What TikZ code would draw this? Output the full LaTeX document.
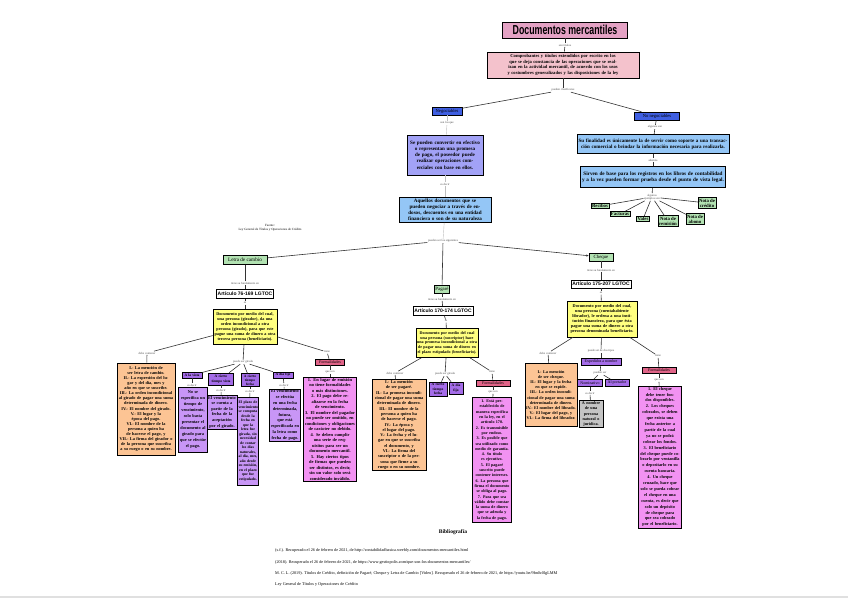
\documentclass[tikz,border=0pt]{standalone}
\usepackage{fontspec}
\setmainfont{Liberation Serif}
\newfontfamily\artfont{Liberation Sans}
\usetikzlibrary{shadows,arrows.meta}
\definecolor{tpink}{HTML}{E4A2C4}
\definecolor{ppink}{HTML}{F4C2CC}
\definecolor{rblue}{HTML}{3F5FE2}
\definecolor{lav}{HTML}{A2A2F6}
\definecolor{lblue}{HTML}{94C6F6}
\definecolor{lgreen}{HTML}{B2E2B2}
\definecolor{ylw}{HTML}{FFFF80}
\definecolor{orng}{HTML}{FCC494}
\definecolor{purd}{HTML}{A46CE8}
\definecolor{purl}{HTML}{C896F6}
\definecolor{pnk}{HTML}{F292F2}
\definecolor{fred}{HTML}{E06488}
\definecolor{gry}{HTML}{C4C4C4}
\newcommand\fsz[2]{\bfseries\fontsize{#1}{#2}\selectfont}
\newcommand\lsz[2]{\fontsize{#1}{#2}\selectfont}
\newcommand\conn[3]{\draw[ln] (#1) -- (#2); \draw[ln] (#2) -- (#3);}
\begin{document}
\begin{tikzpicture}[x=1pt,y=-1pt,
  bx/.style={draw=black, line width=0.6pt, align=center, inner sep=1pt,
    font=\fsz{4.3}{5.2},
    drop shadow={shadow xshift=0.7pt, shadow yshift=-0.7pt, fill=black!60, opacity=0.8}},
  lb/.style={font=\lsz{3}{3.4}, text=black!70, inner sep=0.6pt, align=center},
  ln/.style={draw=black!80, line width=0.6pt},
  lnl/.style={draw=black!25, line width=0.4pt},
  art/.style={bx, fill=white, font=\artfont\fsz{5}{5.5}, inner sep=1.2pt},
  gbox/.style={bx, fill=lgreen, font=\fsz{4.8}{5.2}}
]
\useasboundingbox (0,0) rectangle (848,599);
\fill[white] (0,0) rectangle (848,599);
\draw[black!12, line width=1.5pt] (0,597) -- (848,597);

% ---------- top ----------
\node[bx, fill=tpink, minimum width=125pt, minimum height=16pt, font=\artfont\bfseries] (title) at (565,30)
  {\scalebox{0.88}[1.3]{\fontsize{10}{10}\selectfont Documentos mercantiles}};
\node[lb] (lt1) at (565,45) {son títulos};
\node[bx, fill=ppink, text width=150pt, minimum height=26pt, font=\fsz{4.6}{5.5}] (b2) at (563,65)
  {Comprobantes y títulos extendidos por escrito en los que se deja constancia de las operaciones que se realizan en la actividad mercantil, de acuerdo con los usos y costumbres generalizados y las disposiciones de la ley};
\conn{title}{lt1}{b2}
\node[lb] (l2) at (563,90) {pueden clasificarse};
\draw[ln] (b2) -- (l2);

\node[bx, fill=rblue, minimum width=30pt, minimum height=8pt, font=\lsz{4.6}{5}] (neg) at (447,111) {Negociables};
\node[bx, fill=rblue, minimum width=45pt, minimum height=8pt, font=\lsz{4.6}{5}] (noneg) at (657,116) {No negociables};
\draw[ln] (l2) -- (neg);
\draw[ln] (l2) -- (noneg);

% negociables
\node[lb] (l3) at (447,123) {son los que};
\node[bx, fill=lav, text width=74pt, minimum height=40pt, font=\fsz{5.1}{6.2}] (n1) at (445,155)
  {Se pueden convertir en efectivo o representan una promesa de pago, el poseedor puede realizar operaciones comerciales con base en ellos.};
\node[lb] (l4) at (445,184) {es decir};
\node[bx, fill=lblue, text width=90pt, minimum height=25pt, font=\fsz{5.1}{5.9}] (n2) at (445,210)
  {Aquellos documentos que se pueden negociar a través de endosos, descuentos en una entidad financiera o son de su naturaleza};
\draw[lnl] (neg) -- (l3); \draw[lnl] (l3) -- (n1);
\draw[lnl] (n1) -- (l4); \draw[lnl] (l4) -- (n2);

% no negociables
\node[lb] (l6) at (655,127) {algunos son};
\node[bx, fill=lblue, text width=150pt, minimum height=19pt, font=\fsz{5}{5.8}] (nn1) at (653,144)
  {Su finalidad es únicamente la de servir como soporte a una transacción comercial o brindar la información necesaria para realizarla.};
\node[lb] (l7) at (653,160) {además};
\node[bx, fill=lblue, text width=143pt, minimum height=21pt, font=\fsz{5.2}{6.2}] (nn2) at (653,177)
  {Sirven de base para los registros en los libros de contabilidad y a la vez pueden formar prueba desde el punto de vista legal.};
\conn{noneg}{l6}{nn1}
\conn{nn1}{l7}{nn2}
\node[lb] (l8) at (652,197) {algunos\\ejemplos son};
\draw[ln] (nn2) -- (l8);
\node[gbox] (rec) at (600,206) {Recibos};
\node[gbox] (fac) at (620,214) {Facturas};
\node[gbox] (val) at (643,219) {Vales};
\node[gbox] (rem) at (668,221) {Nota de\\remisión};
\node[gbox] (abo) at (695,219) {Nota de\\abono};
\node[gbox] (cre) at (707,203) {Nota de\\crédito};
\foreach \t in {rec,fac,val,rem,abo,cre} \draw[ln] (l8) -- (\t);

% ---------- main three ----------
\node[lb] (l5) at (443,241) {pueden ser los siguientes};
\draw[lnl] (n2) -- (l5);
\node[bx, fill=lgreen, minimum width=44pt, minimum height=9pt, font=\lsz{5.2}{5.6}] (letra) at (245,260) {Letra de cambio};
\node[bx, fill=lgreen, minimum width=15pt, minimum height=8pt, font=\lsz{4.8}{5.2}] (pag) at (442,289) {Pagaré};
\node[bx, fill=lgreen, minimum width=24pt, minimum height=8pt, font=\lsz{4.8}{5.2}] (che) at (601,257) {Cheque};
\draw[ln] (l5) -- (letra);
\draw[ln] (l5) -- (pag);
\draw[ln, -{Stealth[length=2.5pt,width=2pt]}] (l5) -- (che);

\node[font=\lsz{3.2}{4}, align=center] (fuente) at (270,228) {Fuente:\\Ley General de Títulos y Operaciones de Crédito};

% ---------- Letra de cambio ----------
\node[lb] (la1) at (245,283) {tiene su fundamento en};
\node[art, minimum width=56pt, minimum height=9pt] (art1) at (245,294) {Artículo 76-169 LGTOC};
\conn{letra}{la1}{art1}
\node[lb] (la2) at (245,303) {es};
\node[bx, fill=ylw, text width=62pt, minimum height=35pt, font=\fsz{4.2}{5}] (y1) at (245,327)
  {Documento por medio del cual, una persona (girador), da una orden incondicional a otra persona (girado), para que este pague una suma de dinero a otra tercera persona (beneficiario).};
\conn{art1}{la2}{y1}

\node[lb] (la3) at (147,353) {debe contener};
\node[bx, fill=orng, text width=56pt, minimum height=92pt, font=\fsz{4.3}{5.1}] (o1) at (146,409)
  {I.- La mención de ser letra de cambio.\\ II.- La expresión del lugar y del día, mes y año en que se suscribe.\\ III.- La orden incondicional al girado de pagar una suma determinada de dinero.\\ IV.- El nombre del girado.\\ V.- El lugar y la época del pago.\\ VI.- El nombre de la persona a quien ha de hacerse el pago, y\\ VII.- La firma del girador o de la persona que suscriba a su ruego o en su nombre.};
\conn{y1}{la3}{o1}

\node[lb] (la4) at (243,362) {puede ser girada};
\draw[ln] (y1) -- (la4);
\node[bx, fill=purd, text width=18pt, minimum height=6pt, font=\fsz{3.6}{4.2}] (p1) at (192,375) {A la vista};
\node[bx, fill=purd, text width=23pt, minimum height=12pt, font=\fsz{3.6}{4.3}] (p2) at (221,379) {A cierto tiempo vista};
\node[bx, fill=purd, text width=16pt, minimum height=11pt, font=\fsz{3.5}{4.2}] (p3) at (250,380) {A cierto tiempo fecha};
\node[bx, fill=purd, text width=18pt, minimum height=6pt, font=\fsz{3.6}{4.2}] (p4) at (283,375) {A día fijo};
\foreach \t in {p1,p2,p3,p4} \draw[ln] (la4) -- (\t);
\node[lb] (la5) at (192,385) {es decir};
\node[lb] (la6) at (221,390) {es decir};
\node[lb] (la7) at (250,391) {es decir};
\node[lb] (la8) at (284,385) {es decir};
\node[bx, fill=purl, text width=27pt, minimum height=65pt, font=\fsz{4.3}{6}] (p1b) at (193,420)
  {No se especifica un tiempo de vencimiento, solo basta presentar el documento al girado para que se efectúe el pago.};
\node[bx, fill=purl, text width=28pt, minimum height=31pt, font=\fsz{4.3}{5.6}] (p2b) at (222,412)
  {El vencimiento se cuenta a partir de la fecha de la aceptación por el girado.};
\node[bx, fill=purl, text width=19pt, minimum height=88pt, font=\fsz{3.8}{4.5}] (p3b) at (248,441)
  {El plazo de vencimiento se computa desde la fecha en que la letra fue girada, sin necesidad de contar los días naturales, al día, mes, año desde su emisión, en el plazo que fue estipulado.};
\node[bx, fill=purl, text width=29pt, minimum height=50pt, font=\fsz{4.3}{5.8}] (p4b) at (285,415)
  {El vencimiento se efectúa en una fecha determinada, futura, que está especificada en la letra como fecha de pago.};
\conn{p1}{la5}{p1b}
\conn{p2}{la6}{p2b}
\conn{p3}{la7}{p3b}
\conn{p4}{la8}{p4b}

\node[lb] (la9) at (327,352) {tiene};
\node[bx, fill=fred, minimum width=29pt, minimum height=6pt, font=\lsz{4}{4.4}] (f1) at (330,362) {Formalidades};
\conn{y1}{la9}{f1}
\node[lb] (la10) at (330,372) {que son};
\node[bx, fill=pnk, text width=51pt, minimum height=102pt, font=\fsz{4.4}{5.5}] (pk1) at (330,429)
  {1. En lugar de emisión no tiene formalidades o más distinciones.\\ 2. El pago debe realizarse en la fecha de vencimiento.\\ 3. El nombre del pagador no puede ser omitido, en condiciones y obligaciones de carácter no debido.\\ 4. Se deben cumplir una serie de requisitos para ser un documento mercantil.\\ 5. Hay ciertos tipos de firmas que pueden ser distintos, es decir, sin un valor solo será considerado inválido.};
\conn{f1}{la10}{pk1}

% ---------- Pagaré ----------
\node[lb] (lp1) at (442,299) {tiene su fundamento en};
\node[art, minimum width=53pt, minimum height=9pt] (art2) at (443,311) {Artículo 170-174 LGTOC};
\conn{pag}{lp1}{art2}
\node[lb] (lp2) at (446,321) {es};
\node[bx, fill=ylw, text width=60pt, minimum height=29pt, font=\fsz{4.1}{4.7}] (y2) at (447,343)
  {Documento por medio del cual una persona (suscriptor) hace una promesa incondicional a otra de pagar una suma de dinero en el plazo estipulado (beneficiario).};
\conn{art2}{lp2}{y2}
\node[lb] (lp3) at (395,373) {debe contener};
\node[bx, fill=orng, text width=52pt, minimum height=87pt, font=\fsz{4.3}{5.3}] (o2) at (399,425)
  {I.- La mención de ser pagaré.\\ II.- La promesa incondicional de pagar una suma determinada de dinero.\\ III.- El nombre de la persona a quien ha de hacerse el pago.\\ IV.- La época y el lugar del pago.\\ V.- La fecha y el lugar en que se suscriba el documento, y\\ VI.- La firma del suscriptor o de la persona que firme a su ruego o en su nombre.};
\conn{y2}{lp3}{o2}
\node[lb] (lp4) at (445,374) {puede ser girada};
\draw[ln] (y2) -- (lp4);
\node[bx, fill=purd, text width=16pt, minimum height=14pt, font=\fsz{3.6}{4.4}] (pp1) at (438,389) {A cierto tiempo fecha};
\node[bx, fill=purd, text width=12pt, minimum height=12pt, font=\fsz{3.6}{4.4}] (pp2) at (456,388) {A día fijo};
\draw[ln] (lp4) -- (pp1);
\draw[ln] (lp4) -- (pp2);
\node[lb] (lp5) at (492,372) {tiene};
\node[bx, fill=fred, minimum width=34pt, minimum height=6pt, font=\lsz{4}{4.4}] (f2) at (493,383) {Formalidades};
\conn{y2}{lp5}{f2}
\node[lb] (lp6) at (493,392) {que son};
\node[bx, fill=pnk, text width=37pt, minimum height=125pt, font=\fsz{4.1}{5.3}] (pk2) at (492,460)
  {1. Está pre-establecido de manera específica en la ley, en el artículo 170.\\ 2. Es transmisible por endoso.\\ 3. Es posible que sea utilizado como medio de garantía.\\ 4. Su título es ejecutivo.\\ 5. El pagaré suscrito puede contener intereses.\\ 6. La persona que firma el documento se obliga al pago.\\ 7. Para que sea válido debe constar la suma de dinero que se adeuda y la fecha de pago.};
\conn{f2}{lp6}{pk2}

% ---------- Cheque ----------
\node[lb] (lc1) at (601,270) {tiene su fundamento en};
\node[art, minimum width=57pt, minimum height=8pt] (art3) at (601,284) {Artículo 175-207 LGTOC};
\conn{che}{lc1}{art3}
\node[lb] (lc2) at (601,293) {es};
\node[bx, fill=ylw, text width=68pt, minimum height=36pt, font=\fsz{4.3}{5}] (y3) at (602,319)
  {Documento por medio del cual, una persona (cuentahabiente librador), le ordena a una institución financiera, para que ésta pague una suma de dinero a otra persona denominada beneficiario.};
\conn{art3}{lc2}{y3}
\node[lb] (lc3) at (548,353) {debe contener};
\node[bx, fill=orng, text width=50pt, minimum height=63pt, font=\fsz{4.2}{5.2}] (o3) at (551,395)
  {I.- La mención de ser cheque.\\ II.- El lugar y la fecha en que se expide.\\ III.- La orden incondicional de pagar una suma determinada de dinero.\\ IV.- El nombre del librado.\\ V.- El lugar del pago, y\\ VI.- La firma del librador.};
\conn{y3}{lc3}{o3}
\node[lb] (lc4) at (601,351) {puede ser de dos tipos};
\node[bx, fill=purd, minimum width=40pt, minimum height=7pt, font=\lsz{4}{4.4}] (c1) at (601,362) {Expedidos a nombre};
\conn{y3}{lc4}{c1}
\node[lb] (lc5) at (600,373) {pueden ser};
\draw[ln] (c1) -- (lc5);
\node[bx, fill=purd, minimum width=25pt, minimum height=7pt, font=\lsz{4}{4.4}] (c2) at (590,383) {Nominativo};
\node[bx, fill=purd, minimum width=24pt, minimum height=7pt, font=\lsz{4}{4.4}] (c3) at (617,383) {Al portador};
\draw[ln] (lc5) -- (c2);
\draw[ln] (lc5) -- (c3);
\node[lb] (lc6) at (590,393) {es decir};
\node[bx, fill=gry, text width=22pt, minimum height=26pt, font=\fsz{4.2}{5.2}] (g1) at (591,414)
  {A nombre de una persona natural o jurídica.};
\conn{c2}{lc6}{g1}
\node[lb] (lc7) at (658,356) {tiene};
\node[bx, fill=fred, minimum width=34pt, minimum height=6pt, font=\lsz{4}{4.4}] (f3) at (659,370) {Formalidades};
\conn{y3}{lc7}{f3}
\node[lb] (lc8) at (659,380) {que son};
\node[bx, fill=pnk, text width=41pt, minimum height=141pt, font=\fsz{4.3}{5.9}] (pk3) at (660,457)
  {1. El cheque debe tener fondos disponibles.\\ 2. Los cheques cobrados, se deben que exista una fecha anterior a partir de la cual ya no se podrá cobrar los fondos.\\ 3. El beneficiario del cheque puede cobrarlo por ventanilla o depositarlo en su cuenta bancaria.\\ 4. Un cheque cruzado, hace que solo se pueda cobrar el cheque en una cuenta, es decir que solo un depósito de cheque para que sea cobrado por el beneficiario.};
\conn{f3}{lc8}{pk3}

% ---------- Bibliografía ----------
\node[font=\fsz{5.5}{6}] (bib) at (453,532) {Bibliografía};
\node[anchor=west, font=\lsz{4.2}{5}, inner sep=0pt] (bib1) at (275,550) {(s.f.). Recuperado el 26 de febrero de 2021, de http://contabilidadbasica.weebly.com/documentos-mercantiles.html};
\node[anchor=west, font=\lsz{4.2}{5}, inner sep=0pt] (bib2) at (275,562) {(2018). Recuperado el 26 de febrero de 2021, de https://www.gestiopolis.com/que-son-los-documentos-mercantiles/};
\node[anchor=west, font=\lsz{4.2}{5}, inner sep=0pt] (bib3) at (275,573) {M. C. L. (2019). Títulos de Crédito, definición de Pagaré, Cheque y Letra de Cambio [Video]. Recuperado el 26 de febrero de 2021, de https://youtu.be/9bn0c0lgLMM};
\node[anchor=west, font=\lsz{4.2}{5}, inner sep=0pt] (bib4) at (275,584) {Ley General de Títulos y Operaciones de Crédito};
\end{tikzpicture}
\end{document}
